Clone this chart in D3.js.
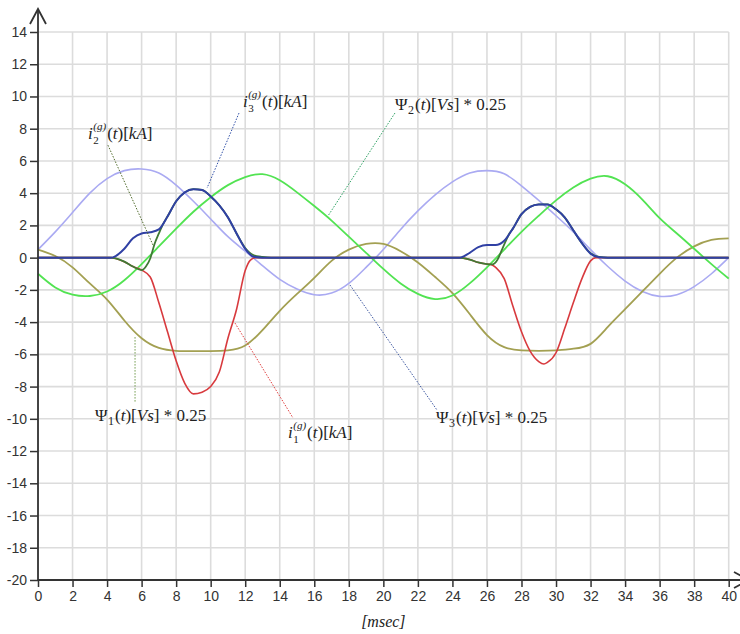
<!DOCTYPE html>
<html><head><meta charset="utf-8">
<script src="https://cdn.jsdelivr.net/npm/d3@7"></script>
<style>
html,body{margin:0;padding:0;background:#fff;}
svg{display:block;}
</style></head>
<body>
<svg id="chart" width="740" height="634"></svg>
<script>
// ---------- data ----------
const xTicks = [0,2,4,6,8,10,12,14,16,18,20,22,24,26,28,30,32,34,36,38,40];
const yTicks = [14,12,10,8,6,4,2,0,-2,-4,-6,-8,-10,-12,-14,-16,-18,-20];

const tFlux = [0,1,2,3,4,5,6,7,8,9,10,11,12,13,14,15,16,17,18,19,20,21,22,23,24,25,26,27,28,29,30,31,32,33,34,35,36,37,38,39,40];
const psi1 = [0.5,0.1,-0.6,-1.6,-2.6,-3.9,-5.0,-5.6,-5.78,-5.8,-5.8,-5.75,-5.45,-4.5,-3.3,-2.25,-1.25,-0.2,0.5,0.85,0.85,0.4,-0.3,-1.2,-2.2,-3.5,-4.8,-5.55,-5.75,-5.78,-5.75,-5.65,-5.35,-4.3,-3.2,-2.1,-1.0,0.0,0.7,1.1,1.2];
const psi2 = [-1.0,-1.85,-2.3,-2.38,-2.1,-1.4,-0.4,0.7,1.8,2.85,3.75,4.5,5.0,5.18,4.8,4.05,3.2,2.3,1.3,0.3,-0.7,-1.6,-2.25,-2.57,-2.35,-1.6,-0.6,0.5,1.6,2.6,3.55,4.35,4.9,5.05,4.55,3.6,2.45,1.5,0.55,-0.4,-1.3];
const psi3 = [0.5,1.6,2.8,4.0,4.9,5.4,5.5,5.25,4.5,3.5,2.4,1.3,0.4,-0.5,-1.35,-1.95,-2.3,-2.2,-1.6,-0.6,0.5,1.75,2.9,3.9,4.7,5.25,5.4,5.2,4.45,3.55,2.6,1.6,0.5,-0.55,-1.45,-2.1,-2.4,-2.3,-1.8,-1.0,0.0];

const tI1 = [0,4.2,4.5,5,5.5,6,6.5,7,7.5,8,8.5,9,9.5,10,10.5,11,11.5,12,12.3,12.6,24.4,25,25.5,26,26.3,26.5,27,27.5,28,28.5,29,29.3,29.5,30,30.5,31,31.5,32,32.3,40];
const i1 = [0,0,-0.05,-0.25,-0.55,-0.77,-1.2,-2.8,-4.6,-6.4,-7.8,-8.45,-8.35,-8.0,-7.1,-5.0,-3.2,-0.8,-0.15,0,0,-0.12,-0.3,-0.4,-0.45,-0.6,-1.3,-3.0,-4.6,-5.8,-6.45,-6.6,-6.5,-5.9,-4.4,-2.8,-1.3,-0.2,0,0];

const tI2 = [0,4.2,4.5,5,5.5,6,6.25,6.5,6.75,7,7.25,7.5,8,8.5,9,9.5,10,10.5,11,11.5,12,12.5,13,13.5,24.4,25,25.5,26,26.3,26.6,26.85,27.1,27.3,27.5,28,28.5,29,29.5,30,30.5,31,31.5,32,32.5,33,40];
const i2 = [0,0,-0.05,-0.25,-0.55,-0.77,-0.55,-0.05,0.85,1.5,2.1,2.55,3.5,4.05,4.25,4.2,3.8,3.25,2.5,1.5,0.6,0.15,0.05,0,0,-0.12,-0.3,-0.4,-0.42,-0.15,0.45,1.05,1.5,1.8,2.7,3.15,3.3,3.3,3.0,2.5,1.7,0.9,0.28,0.05,0,0];

const tI3 = [0,4.2,4.5,5,5.5,6,6.5,7,7.5,8,8.5,9,9.5,10,10.5,11,11.5,12,12.5,13,24.4,25,25.5,26,26.5,27,27.5,28,28.5,29,29.5,30,30.5,31,31.5,32,32.5,33,40];
const i3 = [0,0,0.1,0.55,1.2,1.5,1.57,1.75,2.55,3.5,4.05,4.25,4.2,3.8,3.25,2.5,1.5,0.55,0.05,0,0,0.3,0.65,0.78,0.78,1.05,1.8,2.7,3.15,3.3,3.3,3.0,2.5,1.7,0.9,0.25,0.02,0,0];

// ---------- layout ----------
const svg = d3.select('#chart');
const W = 740, H = 634;
svg.append('rect').attr('width',W).attr('height',H).attr('fill','#fff');
const x = d3.scaleLinear().domain([0,40]).range([38,728.7]);
const y = d3.scaleLinear().domain([-20,14]).range([580,32]);

// grid
const grid = svg.append('g').attr('stroke','#dcdcdc').attr('stroke-width',1.6);
grid.selectAll('line.v').data(xTicks).join('line').attr('class','v')
  .attr('x1',d=>x(d)).attr('x2',d=>x(d)).attr('y1',y(14)).attr('y2',y(-20));
grid.selectAll('line.h').data(yTicks).join('line').attr('class','h')
  .attr('y1',d=>y(d)).attr('y2',d=>y(d)).attr('x1',x(0)).attr('x2',x(40));

// series
const smooth = d3.line().x(d=>x(d[0])).y(d=>y(d[1])).curve(d3.curveNatural);
const mono = d3.line().x(d=>x(d[0])).y(d=>y(d[1])).curve(d3.curveMonotoneX);
const series = [
  {t:tFlux, v:psi3, color:'#aaaaf2', w:1.6, gen:smooth},
  {t:tFlux, v:psi1, color:'#a3a052', w:1.8, gen:smooth},
  {t:tFlux, v:psi2, color:'#52e352', w:1.8, gen:smooth},
  {t:tI1, v:i1, color:'#d83a3e', w:1.6, gen:mono},
  {t:tI2, v:i2, color:'#3f7a35', w:1.8, gen:mono},
  {t:tI3, v:i3, color:'#3040a4', w:2.0, gen:mono}
];
series.forEach(s=>{
  svg.append('path').datum(s.t.map((t,k)=>[t,s.v[k]]))
    .attr('fill','none').attr('stroke',s.color).attr('stroke-width',s.w)
    .attr('stroke-linejoin','round').attr('d',s.gen);
});

// axes
const tickFont = '"Liberation Sans", Arial, sans-serif';
const ax = svg.append('g').attr('transform',`translate(${x(0)},0)`)
  .call(d3.axisLeft(y).tickValues(yTicks).tickSize(8).tickPadding(3).tickFormat(d=>String(d)));
const bx = svg.append('g').attr('transform',`translate(0,${y(-20)})`)
  .call(d3.axisBottom(x).tickValues(xTicks).tickSize(7).tickPadding(4).tickFormat(d=>String(d)));
[ax,bx].forEach(a=>{
  a.select('.domain').remove();
  a.selectAll('.tick line').attr('stroke','#333').attr('stroke-width',1.5);
  a.selectAll('.tick text').attr('fill','#333').style('font-family',tickFont).style('font-size','14px');
});
// axis lines with arrows
const axisG = svg.append('g').attr('stroke','#333').attr('stroke-width',1.8).attr('fill','none');
axisG.append('line').attr('x1',x(0)).attr('x2',x(0)).attr('y1',y(-20)).attr('y2',9);
axisG.append('polyline').attr('points',`${x(0)-8},24 ${x(0)},9 ${x(0)+8},24`);
axisG.append('line').attr('x1',x(0)).attr('x2',747).attr('y1',y(-20)).attr('y2',y(-20));
axisG.append('polyline').attr('points',`734,${y(-20)-8} 749,${y(-20)} 734,${y(-20)+8}`);

// x-axis title
svg.append('text').attr('x',(x(0)+x(40))/2).attr('y',627).attr('text-anchor','middle')
  .style('font-family','"Liberation Serif", serif').style('font-style','italic').style('font-size','16px')
  .attr('fill','#222').text('[msec]');

// ---------- annotations ----------
const labels = [
  {base:'i', baseItalic:true, sub:'2', sup:'(g)', rest:[['(',0],['t',1],[')[',0],['kA',1],[']',0]],
   at:[2.9,7.35], lead:[[4.05,6.98],[6.66,0.78]], lc:'#4f6a2a'},
  {base:'i', baseItalic:true, sub:'3', sup:'(g)', rest:[['(',0],['t',1],[')[',0],['kA',1],[']',0]],
   at:[11.87,9.34], lead:[[11.64,8.97],[9.79,4.32]], lc:'#3050a8'},
  {base:'\u03A8', baseItalic:false, sub:'2', sup:null, rest:[['(',0],['t',1],[')[',0],['Vs',1],['] * 0.25',0]],
   at:[20.67,9.16], lead:[[20.67,8.97],[16.79,2.58]], lc:'#2aa060'},
  {base:'\u03A8', baseItalic:false, sub:'1', sup:null, rest:[['(',0],['t',1],[')[',0],['Vs',1],['] * 0.25',0]],
   at:[3.3,-10.14], lead:[[5.62,-4.93],[5.62,-9.02]], lc:'#6f9a4a'},
  {base:'i', baseItalic:true, sub:'1', sup:'(g)', rest:[['(',0],['t',1],[')[',0],['kA',1],[']',0]],
   at:[14.48,-11.19], lead:[[11.41,-4.06],[14.77,-9.95]], lc:'#e03c3c'},
  {base:'\u03A8', baseItalic:false, sub:'3', sup:null, rest:[['(',0],['t',1],[')[',0],['Vs',1],['] * 0.25',0]],
   at:[23.05,-10.26], lead:[[18.07,-1.70],[23.11,-9.46]], lc:'#3a55a0'}
];
const serif = '"Liberation Serif", "DejaVu Serif", serif';
function measure(str, size, italic){
  const t = svg.append('text').style('font-family',serif).style('font-size',size+'px')
    .style('font-style',italic?'italic':'normal').text(str);
  const w = t.node().getComputedTextLength(); t.remove(); return w;
}
labels.forEach(L=>{
  svg.append('line')
    .attr('x1',x(L.lead[0][0])).attr('y1',y(L.lead[0][1]))
    .attr('x2',x(L.lead[1][0])).attr('y2',y(L.lead[1][1]))
    .attr('stroke',L.lc).attr('stroke-width',1).attr('stroke-dasharray','1.5,1.5');
  const g = svg.append('g').attr('fill','#222').style('font-family',serif);
  let cx = x(L.at[0]); const by = y(L.at[1]);
  const b = g.append('text').attr('x',cx).attr('y',by).style('font-size','17px')
    .style('font-style',L.baseItalic?'italic':'normal').text(L.base);
  cx += b.node().getComputedTextLength() + 0.5;
  let w = 0;
  if (L.sup){
    const s = g.append('text').attr('x',cx).attr('y',by-9).style('font-size','11px').style('font-style','italic').text(L.sup);
    w = Math.max(w, s.node().getComputedTextLength());
    const s2 = g.append('text').attr('x',cx).attr('y',by+5).style('font-size','11px').text(L.sub);
    w = Math.max(w, s2.node().getComputedTextLength());
  } else {
    const s2 = g.append('text').attr('x',cx).attr('y',by+4).style('font-size','12px').text(L.sub);
    w = Math.max(w, s2.node().getComputedTextLength());
  }
  cx += w + 1;
  const r = g.append('text').attr('x',cx).attr('y',by).style('font-size','17px');
  L.rest.forEach(p=>{ r.append('tspan').style('font-style',p[1]?'italic':'normal').text(p[0]); });
});
</script>
</body></html>
